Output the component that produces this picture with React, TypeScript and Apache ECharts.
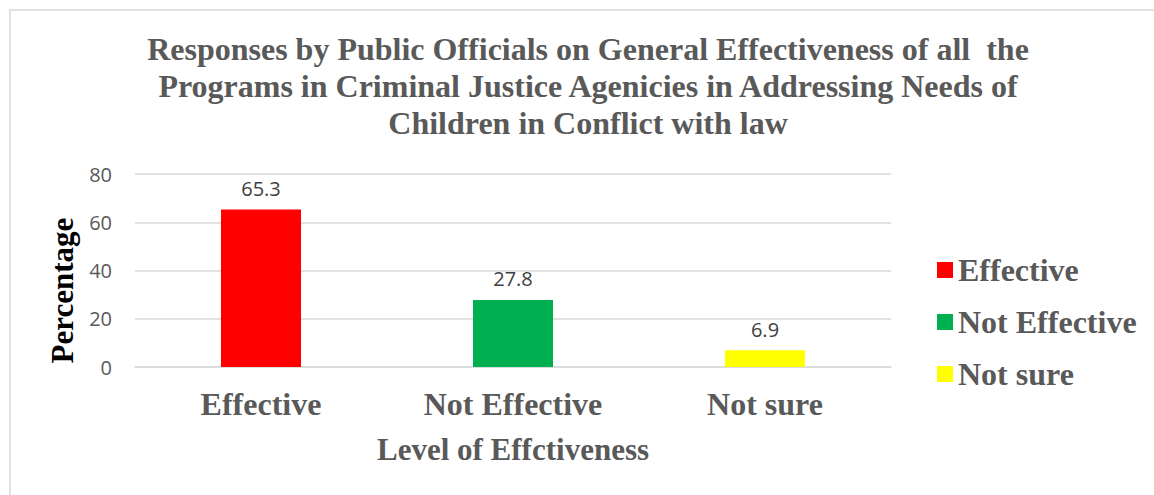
import React, { useEffect, useRef } from "react";
import * as echarts from "echarts";

const categories = ["Effective", "Not Effective", "Not sure"];
const values = [65.3, 27.8, 6.9];
const colors = ["#FF0000", "#00B050", "#FFFF00"];
const yMin = 0;
const yMax = 80;
const yStep = 20;
const titleLines = [
  "Responses by Public Officials on General Effectiveness of all  the",
  "Programs in Criminal Justice Agenicies in Addressing Needs of",
  "Children in Conflict with law",
];
const xName = "Level of Effctiveness";
const yName = "Percentage";

export default function App() {
  const ref = useRef<HTMLDivElement>(null);
  useEffect(() => {
    const chart = echarts.init(ref.current!, null, { renderer: "svg" });
    const serif = '"Liberation Serif", "Times New Roman", serif';
    const sans = '"Open Sans", "Noto Sans", sans-serif';
    chart.setOption({
      animation: false,
      backgroundColor: "#ffffff",
      title: {
        text: titleLines.join("\n"),
        left: 588,
        top: 30,
        textAlign: "center",
        padding: 0,
        textStyle: {
          fontFamily: serif,
          fontWeight: "bold",
          fontSize: 32,
          lineHeight: 37,
          color: "#595959",
        },
      },
      legend: {
        orient: "vertical",
        left: 932,
        top: 249,
        itemWidth: 16,
        itemHeight: 16,
        itemGap: 20,
        icon: "rect",
        data: categories,
        textStyle: {
          fontFamily: serif,
          fontWeight: "bold",
          fontSize: 32,
          lineHeight: 31,
          color: "#595959",
        },
      },
      grid: {
        left: 135,
        right: 263,
        top: 174,
        bottom: 128,
        containLabel: false,
        outerBoundsMode: "none",
      },
      xAxis: {
        type: "category",
        data: categories,
        axisLine: { lineStyle: { color: "#d9d9d9", width: 1.5 } },
        axisTick: { show: false },
        axisLabel: {
          margin: 21,
          fontFamily: serif,
          fontWeight: "bold",
          fontSize: 32,
          color: "#595959",
        },
        name: xName,
        nameLocation: "middle",
        nameGap: 67,
        nameTextStyle: {
          fontFamily: serif,
          fontWeight: "bold",
          fontSize: 31,
          color: "#595959",
        },
      },
      yAxis: {
        type: "value",
        min: yMin,
        max: yMax,
        interval: yStep,
        axisLine: { show: false },
        axisTick: { show: false },
        splitLine: { lineStyle: { color: "#d9d9d9", width: 1.5 } },
        axisLabel: {
          margin: 23,
          fontFamily: sans,
          fontSize: 20,
          color: "#595959",
        },
        name: yName,
        nameLocation: "middle",
        nameGap: 57,
        nameTextStyle: {
          fontFamily: serif,
          fontWeight: "bold",
          fontSize: 31,
          color: "#000000",
          padding: [0, 40, 0, 0],
        },
      },
      graphic: [
        {
          type: "rect",
          silent: true,
          z: -10,
          shape: { x: 10, y: 10, width: 1400, height: 800 },
          style: { fill: "none", stroke: "#d9d9d9", lineWidth: 1.5 },
        },
      ],
      series: categories.map((name, i) => ({
        name,
        type: "bar",
        stack: "total",
        barWidth: 80,
        data: values.map((v, j) => (j === i ? v : "-")),
        itemStyle: { color: colors[i] },
        label: {
          show: true,
          position: "top",
          distance: 11,
          fontFamily: sans,
          fontSize: 20,
          color: "#404040",
        },
      })),
    });
    return () => chart.dispose();
  }, []);
  return (
    <div
      ref={ref}
      style={{ position: "absolute", left: 0, top: 0, width: 1154, height: 495 }}
    />
  );
}
